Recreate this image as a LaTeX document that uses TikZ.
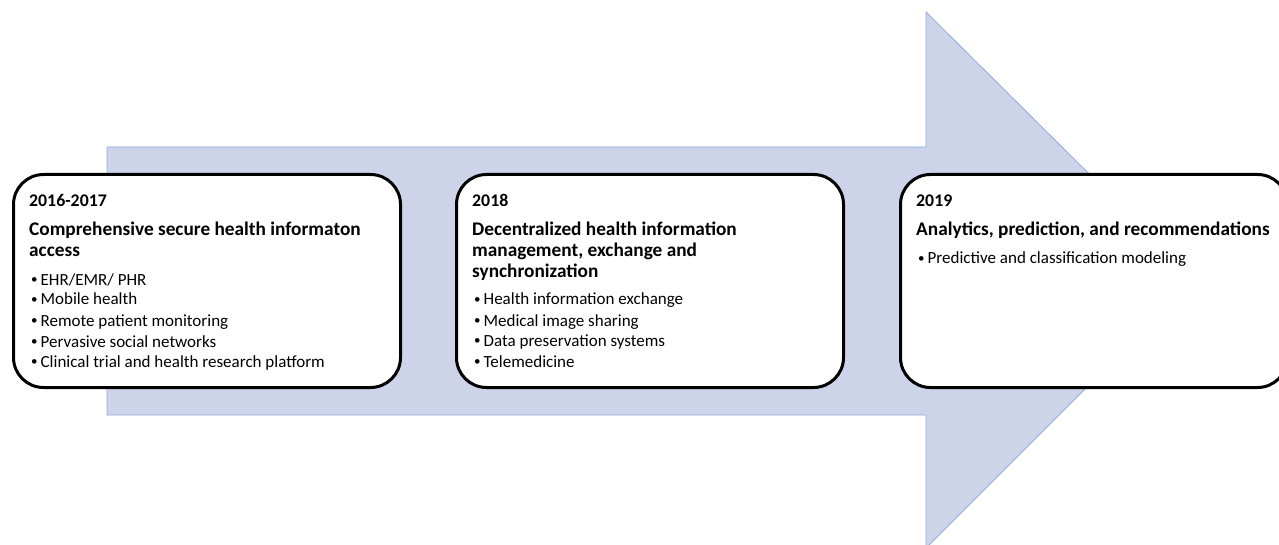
\documentclass[tikz,border=0pt]{standalone}
\usepackage{fontspec}
\setmainfont{Carlito}
\definecolor{arrowfill}{HTML}{CDD4EA}
\definecolor{arrowline}{HTML}{8FAADC}
\newcommand{\itemdot}{\raisebox{1.8pt}{\fontsize{13}{13}\selectfont•}\hspace{3pt}}

\begin{document}
\begin{tikzpicture}[x=1pt,y=-1pt,
	phase/.style={draw=black, line width=3pt, fill=white, rounded corners=30pt, minimum width=387pt, minimum height=213pt, inner sep=0pt},
	yearlbl/.style={anchor=base west, inner sep=0pt, font=\fontsize{17.8}{20}\selectfont\bfseries},
	headlbl/.style={anchor=base west, inner sep=0pt, font=\fontsize{19.3}{22}\selectfont\bfseries},
	itemlbl/.style={anchor=base west, inner sep=0pt, font=\fontsize{17}{19}\selectfont}]
	\useasboundingbox (0,0) rectangle (1279,545);
	\draw[fill=arrowfill, draw=arrowline, line width=0.8pt] (107,147) -- (926,147) -- (926,12) -- (1195,279) -- (926,548) -- (926,415) -- (107,415) -- cycle;
	\node[phase] (p1) at (207,281) {};
	\node[phase] (p2) at (650,281) {};
	\node[phase] (p3) at (1094,281) {};
	% 2016-2017
	\node[yearlbl] (y1) at (29,207) {2016-2017};
	\node[headlbl] (h1a) at (29,236) {Comprehensive secure health informaton};
	\node[headlbl] (h1b) at (29,257) {access};
	\node[itemlbl] (i1a) at (31,285) {\itemdot EHR/EMR/ PHR};
	\node[itemlbl] (i1b) at (31,305) {\itemdot Mobile health};
	\node[itemlbl] (i1c) at (31,326) {\itemdot Remote patient monitoring};
	\node[itemlbl] (i1d) at (31,347) {\itemdot Pervasive social networks};
	\node[itemlbl] (i1e) at (31,367) {\itemdot Clinical trial and health research platform};
	% 2018
	\node[yearlbl] (y2) at (472,207) {2018};
	\node[headlbl] (h2a) at (472,236) {Decentralized health information};
	\node[headlbl] (h2b) at (472,257) {management, exchange and};
	\node[headlbl] (h2c) at (472,277) {synchronization};
	\node[itemlbl] (i2a) at (474,305) {\itemdot Health information exchange};
	\node[itemlbl] (i2b) at (474,326) {\itemdot Medical image sharing};
	\node[itemlbl] (i2c) at (474,346) {\itemdot Data preservation systems};
	\node[itemlbl] (i2d) at (474,367) {\itemdot Telemedicine};
	% 2019
	\node[yearlbl] (y3) at (916,207) {2019};
	\node[headlbl] (h3a) at (916,236) {Analytics, prediction, and recommendations};
	\node[itemlbl] (i3a) at (918,264) {\itemdot Predictive and classification modeling};
\end{tikzpicture}
\end{document}
